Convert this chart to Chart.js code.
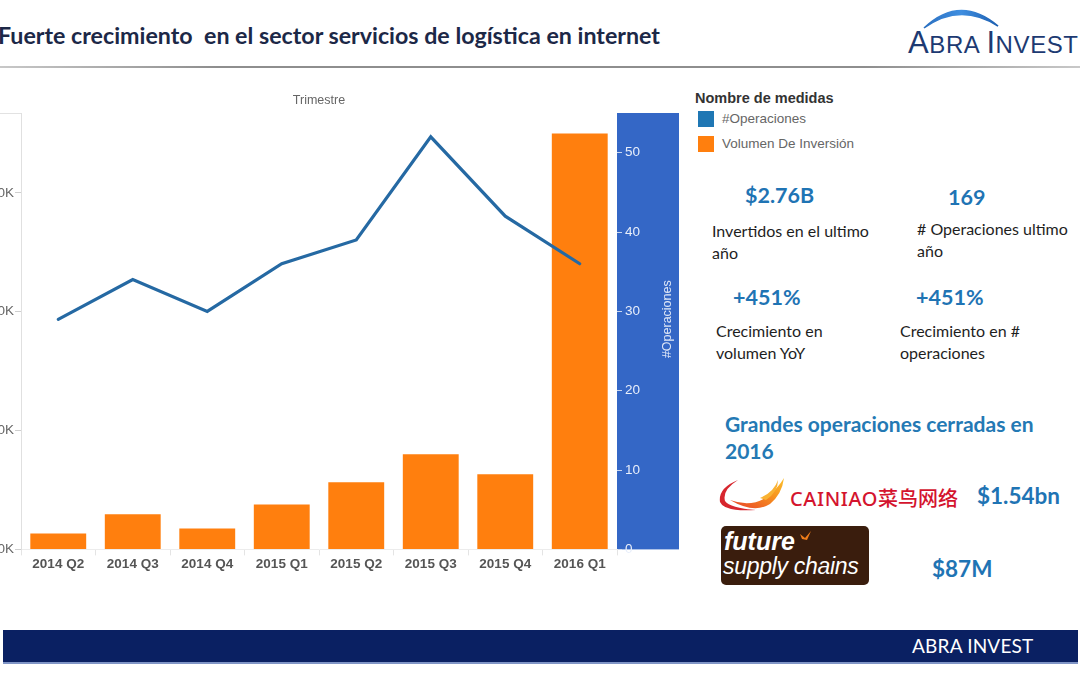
<!DOCTYPE html>
<html>
<head>
<meta charset="utf-8">
<script src="https://cdn.jsdelivr.net/npm/chart.js@4.4.1/dist/chart.umd.min.js"></script>
<style>
  html,body{margin:0;padding:0;background:#fff;}
  body{width:1080px;height:675px;position:relative;overflow:hidden;font-family:Lato,"Liberation Sans",sans-serif;}
  .abs{position:absolute;white-space:nowrap;}
  #title{left:-2px;top:22px;font-weight:700;font-size:22px;color:#1c2847;transform-origin:left center;}
  #hline{left:0;top:66px;width:1080px;height:2px;background:linear-gradient(90deg,#c8c8c8,#8e8e8e 20%,#8e8e8e 80%,#c8c8c8);}
  #chartWrap{position:absolute;left:-80px;top:86.6px;width:759px;height:492.4px;}
  .lg{font-family:"Liberation Sans",Arial,sans-serif;}
  .kpi{font-weight:700;color:#1f74b4;font-size:21.5px;}
  .desc{color:#1e1e1e;font-size:16px;line-height:22px;}
  .big{font-weight:700;color:#2479b4;font-size:21px;line-height:27px;}
  #bottom{left:3px;top:630px;width:1075px;height:32px;background:#0a2062;border-bottom:2px solid #8095c6;}
</style>
</head>
<body>
<div id="title" class="abs fit" data-w="662">Fuerte crecimiento &nbsp;en el sector servicios de logística en internet</div>
<div id="hline" class="abs"></div>

<!-- ABRA INVEST logo -->
<svg class="abs" style="left:900px;top:0px" width="180" height="64">
  <defs>
    <linearGradient id="arcg" x1="0" x2="1" y1="0" y2="0">
      <stop offset="0" stop-color="#2a6fc0"/><stop offset="0.5" stop-color="#3f8ee0"/><stop offset="1" stop-color="#1d5fb0"/>
    </linearGradient>
  </defs>
  <path d="M24,28 Q60,-6 98,26 Q60,2 24,28 Z" fill="url(#arcg)" stroke="url(#arcg)" stroke-width="1.5"/>
</svg>
<div class="abs" style="left:908px;top:25px;color:#1d3a72;font-family:'Liberation Sans',sans-serif;letter-spacing:0.6px;">
  <span style="font-size:31px">A</span><span style="font-size:24px">BRA </span><span style="font-size:31px">I</span><span style="font-size:24px">NVEST</span>
</div>

<div id="chartWrap"><canvas id="c"></canvas></div>

<!-- legend -->
<div class="abs lg" style="left:695px;top:90px;font-size:14.5px;font-weight:700;color:#333;">Nombre de medidas</div>
<div class="abs" style="left:698px;top:111px;width:16px;height:16px;background:#1f77b4;"></div>
<div class="abs lg" style="left:722px;top:111px;font-size:13.5px;color:#666;">#Operaciones</div>
<div class="abs" style="left:698px;top:136px;width:16px;height:16px;background:#ff7f0e;"></div>
<div class="abs lg" style="left:722px;top:136px;font-size:13.5px;color:#666;">Volumen De Inversión</div>

<!-- KPIs -->
<div class="abs kpi" style="left:745px;top:182px;">$2.76B</div>
<div class="abs kpi" style="left:948px;top:184px;">169</div>
<div class="abs desc" style="left:712px;top:220px;">Invertidos en el ultimo<br>año</div>
<div class="abs desc" style="left:917px;top:218px;"># Operaciones ultimo<br>año</div>
<div class="abs kpi" style="left:733px;top:284px;">+451%</div>
<div class="abs kpi" style="left:916px;top:284px;">+451%</div>
<div class="abs desc" style="left:716px;top:320px;">Crecimiento en<br>volumen YoY</div>
<div class="abs desc" style="left:900px;top:320px;">Crecimiento en #<br>operaciones</div>

<div class="abs big" style="left:725px;top:410px;">Grandes operaciones cerradas en<br>2016</div>

<!-- Cainiao logo -->
<svg class="abs" style="left:716px;top:474px" width="75" height="42">
  <defs>
    <linearGradient id="fl" x1="0" x2="1" y1="1" y2="0">
      <stop offset="0" stop-color="#e8402a"/><stop offset="0.6" stop-color="#f7931e"/><stop offset="1" stop-color="#fbc02d"/>
    </linearGradient>
  </defs>
  <path d="M22,6 Q2,14 4,28 Q8,38 40,36 Q14,34 9,27 Q6,16 22,6 Z" fill="#d7262e"/>
  <path d="M14,26 Q36,34 52,22 Q62,14 68,4 Q66,20 54,30 Q38,40 14,26 Z" fill="url(#fl)"/>
  <path d="M44,24 Q58,18 62,6 Q62,18 50,26 Z" fill="#f9b233"/>
</svg>
<div class="abs" style="left:790px;top:483px;color:#d4142e;font-size:20px;font-family:'Noto Sans','Noto Sans CJK SC',sans-serif;font-weight:500;letter-spacing:0.6px;">CAINIAO<span style="font-family:'Noto Sans CJK SC';font-weight:500;letter-spacing:0;">菜鸟网络</span></div>
<div class="abs kpi" style="left:977px;top:482px;font-size:22.5px;">$1.54bn</div>

<!-- future supply chains logo -->
<div class="abs" style="left:721px;top:526px;width:148px;height:59px;background:#3a1d0d;border-radius:5px;"></div>
<div class="abs" style="left:724px;top:527px;color:#fff;font-family:'Liberation Sans',sans-serif;font-style:italic;font-weight:700;font-size:25px;">future</div>
<svg class="abs" style="left:799px;top:530px" width="14" height="12"><path d="M1,4 L6,8 L12,1 L8,10 L3,9 Z" fill="#f07d1a"/></svg>
<div class="abs" style="left:723px;top:553px;color:#fff;font-family:'Liberation Sans',sans-serif;font-style:italic;font-size:23px;letter-spacing:-0.3px;">supply chains</div>
<div class="abs kpi" style="left:932px;top:555px;font-size:22.5px;">$87M</div>

<div id="bottom" class="abs"></div>
<div class="abs" style="left:912px;top:634px;color:#fff;font-size:19px;font-family:Lato,sans-serif;letter-spacing:0.2px;">ABRA INVEST</div>

<script>
const quarters = ["2014 Q2","2014 Q3","2014 Q4","2015 Q1","2015 Q2","2015 Q3","2015 Q4","2016 Q1"];
const volumenMillones = [67, 148, 88, 189, 283, 400, 316, 1750];
const operaciones = [29, 34, 30, 36, 39, 52, 42, 36];
const volumenTicks = [0, 500, 1000, 1500];
const operacionesTicks = [0, 10, 20, 30, 40, 50];

document.querySelectorAll('.fit').forEach(el => {
  const w = el.getBoundingClientRect().width;
  const target = +el.dataset.w;
  el.style.transform = 'scaleX(' + (target / w) + ')';
});

const bandPlugin = {
  id: 'band',
  beforeDraw(chart) {
    const {ctx, chartArea} = chart;
    const s = chart.scales.yOps;
    ctx.save();
    ctx.fillStyle = '#3467c6';
    ctx.fillRect(s.left, chartArea.top, s.right - s.left, chartArea.bottom - chartArea.top);
    ctx.strokeStyle = '#e2e2e2';
    ctx.lineWidth = 1;
    ctx.beginPath();
    ctx.moveTo(0, chartArea.top + 0.5);
    ctx.lineTo(chartArea.left, chartArea.top + 0.5);
    ctx.stroke();
    ctx.restore();
  },
  afterDraw(chart) {
    const {ctx, chartArea} = chart;
    const s = chart.scales.yOps;
    ctx.save();
    ctx.translate(s.left + 51, (chartArea.top + chartArea.bottom) / 2 - 12);
    ctx.rotate(-Math.PI / 2);
    ctx.fillStyle = '#dfe7f7';
    ctx.font = '12.5px "Liberation Sans", Arial, sans-serif';
    ctx.textAlign = 'center';
    ctx.textBaseline = 'middle';
    ctx.fillText('#Operaciones', 0, 0);
    ctx.restore();
  }
};

new Chart(document.getElementById('c'), {
  data: {
    labels: quarters,
    datasets: [
      {
        type: 'line', label: '#Operaciones', data: operaciones, yAxisID: 'yOps',
        borderColor: '#2569a3', borderWidth: 3.2, pointRadius: 0, tension: 0, order: 0,
        borderJoinStyle: 'miter', borderCapStyle: 'round'
      },
      {
        type: 'bar', label: 'Volumen De Inversión', data: volumenMillones, yAxisID: 'yVol',
        backgroundColor: '#ff7f0e', categoryPercentage: 1, barPercentage: 0.75, order: 1
      }
    ]
  },
  options: {
    responsive: true, maintainAspectRatio: false, animation: false,
    layout: { padding: 0 },
    plugins: {
      legend: { display: false }, tooltip: { enabled: false },
      title: {
        display: true, text: 'Trimestre', fullSize: false, color: '#666',
        font: { family: '"Liberation Sans", Arial, sans-serif', size: 12.5, weight: 'normal' },
        padding: { top: 6, bottom: 5 }
      }
    },
    scales: {
      x: {
        offset: true,
        grid: { display: true, offset: true, drawOnChartArea: false, tickLength: 6, color: '#e4e4e4' },
        border: { display: true, color: '#ececec' },
        ticks: { color: '#555', padding: 1, font: { family: '"Liberation Sans", Arial, sans-serif', size: 13.5, weight: 'bold' } },
        afterFit(s) { s.height = 30; }
      },
      yVol: {
        position: 'left', min: 0, max: 1836,
        afterBuildTicks(s) { s.ticks = volumenTicks.map(v => ({ value: v })); },
        grid: { drawOnChartArea: false, tickLength: 6, color: '#cfcfcf' },
        border: { display: true, color: '#e0e0e0' },
        ticks: {
          color: '#666', padding: 1,
          font: { family: '"Liberation Sans", Arial, sans-serif', size: 13.5 },
          callback: v => (v * 1000).toLocaleString('en-US') + 'K'
        },
        afterFit(s) { s.width = 101; }
      },
      yOps: {
        position: 'right', min: 0, max: 55,
        afterBuildTicks(s) { s.ticks = operacionesTicks.map(v => ({ value: v })); },
        grid: { drawOnChartArea: false, tickLength: 5, color: '#c9d6ef' },
        border: { display: false },
        ticks: {
          color: '#e8eefa', padding: 3,
          font: { family: '"Liberation Sans", Arial, sans-serif', size: 13.5 }
        },
        afterFit(s) { s.width = 62; }
      }
    }
  },
  plugins: [bandPlugin]
});
</script>
</body>
</html>
